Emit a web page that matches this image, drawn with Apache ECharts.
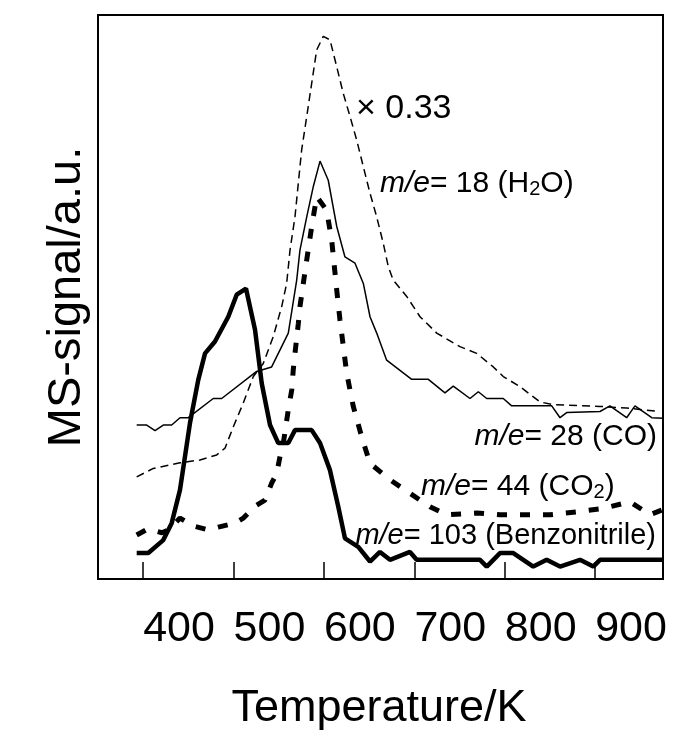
<!DOCTYPE html>
<html><head><meta charset="utf-8">
<script src="https://cdn.jsdelivr.net/npm/echarts@6/dist/echarts.min.js"></script>
<style>html,body{margin:0;padding:0;background:#fff}#c{width:678px;height:736px}</style>
</head><body><div id="c"></div>
<script>
// x-axis tick labels (K)
const tickValues = [400, 500, 600, 700, 800, 900];

// m/e = 103 (Benzonitrile)
const benzT = [392.8,405.6,422.2,431.5,440.7,451.8,460.9,468.4,479.4,494.1,503.4,513.7,523.7,531.1,540.3,549.4,560.5,567.9,586.4,595.6,606.6,615.8,623.2,637.9,650.9,661.9,673.0,695.1,702.5,772.6,780.0,794.7,809.4,831.5,846.3,861.1,883.2,897.9,905.3,975];
const benzV = [4.6,4.6,6.9,9.9,15.8,27.7,35.3,40.0,42.1,46.5,50.4,51.5,44.2,34.7,27.3,24.1,24.1,26.4,26.4,24.1,19.3,12.8,7.2,5.7,3.1,4.8,3.4,4.8,3.4,3.4,2.2,4.6,4.6,2.2,3.4,2.2,3.4,2.2,3.4,3.4];

// m/e = 28 (CO)
const coT = [392.8,403.9,413.1,422.2,431.5,440.7,449.9,477.5,486.8,525.5,542.1,560.5,569.8,573.4,580.9,588.2,595.6,604.7,614.1,623.2,634.3,643.5,650.9,658.3,669.3,697.0,715.4,733.8,743.0,761.5,770.7,780.0,798.3,807.6,851.9,861.1,868.4,905.3,916.3,934.8,944.0,962.5,975];
const coV = [27.3,27.3,26.3,27.3,27.3,28.6,28.6,32.0,32.0,36.8,37.6,43.6,53.0,58.3,64.2,69.6,74.1,70.7,62.5,57.1,56.0,52.4,46.5,43.6,38.8,35.4,35.4,33.0,34.2,32.0,33.2,32.0,32.0,30.7,30.7,28.6,29.5,29.7,30.7,28.6,30.7,28.6,28.5];

// m/e = 18 (H2O), x 0.33
const h2oT = [392.8,411.2,440.7,462.8,481.3,490.5,499.7,510.7,521.8,532.8,543.9,553.2,558.7,562.4,567.9,571.6,575.3,580.9,586.4,591.9,599.2,606.6,614.1,621.3,628.8,636.2,643.5,650.9,658.3,665.6,671.1,676.6,691.5,706.2,724.7,750.4,768.9,787.3,798.3,816.8,838.9,853.6,905.3,934.8,971.6];
const h2oV = [18.1,19.6,20.6,21.1,22.0,23.2,27.0,31.2,35.9,38.2,43.0,48.3,52.4,58.3,64.2,70.2,76.1,82.0,87.9,93.8,96.2,95.6,90.8,86.1,82.0,77.8,73.1,68.4,64.2,59.5,55.4,53.0,50.1,46.5,43.6,41.2,40.0,37.6,35.9,34.1,31.4,30.9,30.6,30.3,29.7];

// m/e = 44 (CO2)
const co2T = [392.8,405.3,420.8,427.8,440.7,455.4,472.0,483.1,501.5,510.7,525.5,534.7,542.1,547.7,551.3,555.0,560.5,564.3,566.0,567.9,571.6,573.4,577.1,580.9,586.4,591.9,602.9,608.5,614.1,617.7,625.1,632.4,641.7,650.9,673.0,695.1,717.2,735.7,768.9,794.7,824.2,850.0,879.5,908.9,938.5,960.6,973.5];
const co2V = [7.8,8.9,8.2,8.7,10.8,9.4,8.7,9.2,9.9,10.8,13.1,14.0,17.0,18.7,21.7,24.1,30.0,33.5,37.1,40.0,45.3,48.3,52.4,56.6,62.5,67.8,65.4,60.1,51.2,45.9,36.5,30.6,25.2,20.5,17.6,15.2,12.8,11.4,11.7,11.4,11.4,11.4,11.9,12.5,13.7,11.4,12.2];

const zip = (t, v) => t.map((x, i) => [x, v[i]]);
const FONT = '"Liberation Sans", Arial, sans-serif';

const chart = echarts.init(document.getElementById('c'), null, {renderer: 'canvas'});
function label(x, y, text, align, size) {
  const fs = size || 30;
  return {type: 'text', x: x, y: y, silent: true,
    style: {text: text, fontSize: fs, fontFamily: FONT, fill: '#000',
      align: align || 'left', verticalAlign: 'middle',
      rich: {
        i: {fontStyle: 'italic', fontSize: fs, fontFamily: FONT, fill: '#000'},
        s: {fontSize: 20, fontFamily: FONT, verticalAlign: 'bottom', lineHeight: 18}
      }}};
}

chart.setOption({
  animation: false,
  backgroundColor: '#fff',
  grid: {left: 98, right: 15, top: 15, bottom: 157, show: true,
    borderColor: '#000', borderWidth: 2, outerBoundsMode: 'none'},
  xAxis: {
    type: 'value', min: 350, max: 975,
    axisLine: {show: false},
    splitLine: {show: false},
    axisTick: {show: true, inside: true, length: 17, customValues: tickValues,
      lineStyle: {color: '#000', width: 1.5}},
    axisLabel: {show: true, customValues: tickValues, align: 'left', margin: 29,
      fontSize: 43, fontFamily: FONT, color: '#000'}
  },
  yAxis: {
    type: 'value', min: 0, max: 100,
    axisLine: {show: false}, axisTick: {show: false},
    axisLabel: {show: false}, splitLine: {show: false}
  },
  series: [
    {name: 'H2O', type: 'line', data: zip(h2oT, h2oV), showSymbol: false,
      lineStyle: {color: '#000', width: 1.5, type: [8, 5]}},
    {name: 'CO', type: 'line', data: zip(coT, coV), showSymbol: false,
      lineStyle: {color: '#000', width: 1.5}},
    {name: 'CO2', type: 'line', data: zip(co2T, co2V), showSymbol: false,
      lineStyle: {color: '#000', width: 5, type: [10, 13]}},
    {name: 'Benzonitrile', type: 'line', data: zip(benzT, benzV), showSymbol: false,
      lineStyle: {color: '#000', width: 4.5}}
  ],
  graphic: [
    {type: 'text', x: 67, y: 297, rotation: Math.PI / 2, silent: true,
      style: {text: 'MS-signal/a.u.', fontSize: 47, fontFamily: FONT, fill: '#000',
        align: 'center', verticalAlign: 'middle'}},
    {type: 'text', x: 379, y: 709, silent: true,
      style: {text: 'Temperature/K', fontSize: 45, fontFamily: FONT, fill: '#000',
        align: 'center', verticalAlign: 'middle'}},
    {type: 'text', x: 356, y: 109, silent: true,
      style: {text: '× 0.33', fontSize: 34, fontFamily: FONT, fill: '#000',
        align: 'left', verticalAlign: 'middle'}},
    label(380, 184, '{i|m/e}= 18 (H{s|2}O)'),
    label(657, 437, '{i|m/e}= 28 (CO)', 'right'),
    label(421, 487, '{i|m/e}= 44 (CO{s|2})'),
    label(656, 536, '{i|m/e}= 103 (Benzonitrile)', 'right', 29)
  ]
});
</script>
</body></html>
